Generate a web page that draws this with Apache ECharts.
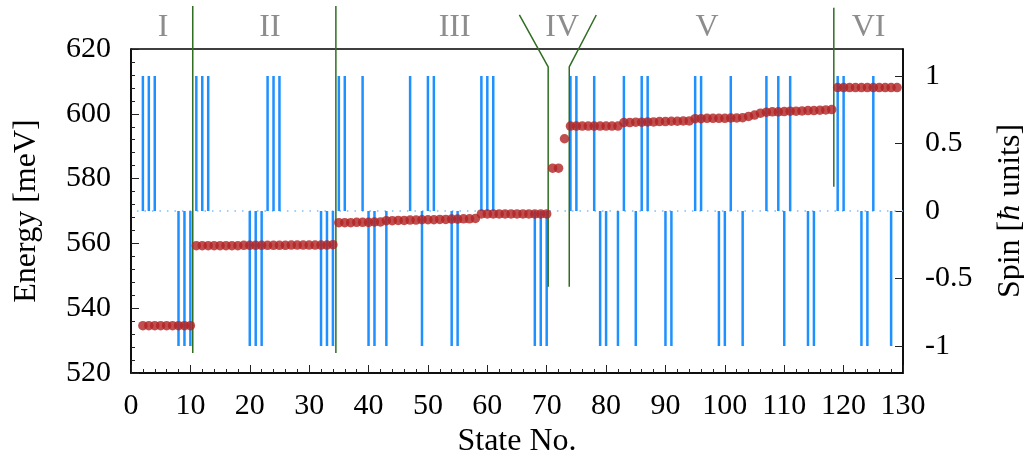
<!DOCTYPE html>
<html><head><meta charset="utf-8">
<script src="https://cdn.jsdelivr.net/npm/echarts@6/dist/echarts.min.js"></script>
<style>html,body{margin:0;padding:0;background:#fff}#c{width:1024px;height:464px}</style>
</head><body><div id="c"></div>
<script>
// ---------- data ----------
const regionNames = ['I', 'II', 'III', 'IV', 'V', 'VI'];
const regionStart = [2, 11, 35, 71, 74, 119];   // first state number of each region
const regionLabelX = [5.4, 23.4, 54.5, 72.6, 97.0, 124.2];
const regionLabelY = 626.5;

const energyI = [534.6, 534.6, 534.6, 534.6, 534.6, 534.6, 534.6, 534.6, 534.6];
const energyII = [559.3, 559.3, 559.3, 559.3, 559.3, 559.3, 559.3, 559.3,
                  559.4, 559.4, 559.4, 559.4, 559.4, 559.4, 559.4, 559.4,
                  559.5, 559.5, 559.5, 559.5, 559.5, 559.5, 559.5, 559.6];
const energyIII = [566.4, 566.4, 566.4, 566.5, 566.5, 566.5, 566.6, 566.6,
                   567.0, 567.0, 567.1, 567.1, 567.2, 567.2, 567.3, 567.3,
                   567.3, 567.4, 567.4, 567.5, 567.5, 567.6, 567.6, 567.7,
                   569.1, 569.1, 569.1, 569.1, 569.1, 569.1, 569.1, 569.1,
                   569.1, 569.1, 569.1, 569.1];
const energyIV = [583.2, 583.2, 592.3];
const energyV = [596.2, 596.2, 596.2, 596.2, 596.2, 596.2, 596.2, 596.2, 596.2,
                 597.3, 597.3, 597.4, 597.4, 597.5, 597.5, 597.6, 597.6, 597.7, 597.7, 597.8, 597.8,
                 598.5, 598.5, 598.6, 598.6, 598.6, 598.6, 598.7, 598.7, 598.8,
                 599.2, 599.6, 600.2,
                 600.5, 600.6, 600.6, 600.7, 600.8, 600.8, 600.9, 601.0, 601.0, 601.1, 601.2, 601.3];
const energyVI = [608.1, 608.1, 608.1, 608.1, 608.1, 608.1, 608.1, 608.1, 608.1, 608.1, 608.1];

const spinUpStates = [2, 3, 4, 11, 12, 13, 23, 24, 25, 35, 36, 39, 47, 50, 51, 59, 60, 61,
                      74, 75, 78, 83, 86, 87, 95, 96, 101, 107, 109, 111, 119, 120, 125];
const spinDownStates = [8, 9, 10, 20, 21, 22, 32, 33, 34, 40, 41, 43, 49, 54, 55, 68, 69, 70,
                        79, 80, 82, 85, 90, 91, 99, 100, 103, 110, 114, 115, 123, 124, 128];
const zeroLineX = [1, 130];

// boundary lines (state no., energy)
const boundaryI_II = [[10.4, 633.3], [10.4, 526.2]];
const boundaryII_III = [[34.5, 633.3], [34.5, 526.2]];
const boundaryIV_left = [[65.4, 630.5], [70.25, 614.5], [70.25, 546.6]];
const boundaryIV_right = [[78.35, 630.5], [73.8, 614.5], [73.8, 546.6]];
const boundaryV_VI = [[118.35, 632.7], [118.35, 577.5]];

const xTicks = {min: 0, max: 130, interval: 10};
const energyTicks = {min: 520, max: 620, interval: 20};
const spinRange = {min: -1.2, max: 1.2};
const spinTickValues = [-1, -0.5, 0, 0.5, 1];

// ---------- build ----------
const energyRegions = [energyI, energyII, energyIII, energyIV, energyV, energyVI];
const energyData = [];
energyRegions.forEach((arr, r) => arr.forEach((e, i) => energyData.push([regionStart[r] + i, e])));
const spinData = spinUpStates.map(s => [s, 1]).concat(spinDownStates.map(s => [s, -1]));
spinData.sort((a, b) => a[0] - b[0]);

const FONT = 'Liberation Serif';
const GREEN = '#2f6e22';
const chart = echarts.init(document.getElementById('c'), null, {renderer: 'canvas'});

const greenLine = (data) => ({
  type: 'line', data, xAxisIndex: 0, yAxisIndex: 0, clip: false, symbol: 'none',
  lineStyle: {color: GREEN, width: 1.5}, z: 4, silent: true, animation: false
});

chart.setOption({
  animation: false,
  backgroundColor: '#fff',
  grid: {left: 131, right: 121, top: 49, bottom: 91, containLabel: false, outerBoundsMode: 'none',
         show: true, borderColor: '#000', borderWidth: 1.5, backgroundColor: 'transparent'},
  xAxis: {
    type: 'value', min: xTicks.min, max: xTicks.max, interval: xTicks.interval, position: 'bottom',
    axisLine: {show: true, onZero: false, lineStyle: {color: '#000', width: 1.5}},
    axisTick: {inside: true, length: 8, lineStyle: {color: '#222', width: 1}},
    minorTick: {show: true, splitNumber: 5, length: 4, lineStyle: {color: '#222', width: 1}},
    splitLine: {show: false},
    axisLabel: {fontFamily: FONT, fontSize: 30, color: '#000', margin: 18},
    name: 'State No.', nameLocation: 'middle', nameGap: 50,
    nameTextStyle: {fontFamily: FONT, fontSize: 32, color: '#000'}
  },
  yAxis: [{
    type: 'value', min: energyTicks.min, max: energyTicks.max, interval: energyTicks.interval,
    axisLine: {show: true, onZero: false, lineStyle: {color: '#000', width: 1.5}},
    axisTick: {inside: true, length: 8, lineStyle: {color: '#222', width: 1}},
    minorTick: {show: true, splitNumber: 5, length: 4, lineStyle: {color: '#222', width: 1}},
    splitLine: {show: false},
    axisLabel: {fontFamily: FONT, fontSize: 30, color: '#000', margin: 20},
    name: 'Energy [meV]', nameLocation: 'middle', nameGap: 88, nameRotate: 90,
    nameTextStyle: {fontFamily: FONT, fontSize: 32, color: '#000'}
  }, {
    type: 'value', position: 'right', min: spinRange.min, max: spinRange.max,
    axisLine: {show: true, onZero: false, lineStyle: {color: '#000', width: 1.5}},
    axisTick: {inside: true, length: 8, customValues: spinTickValues, lineStyle: {color: '#222', width: 1}},
    splitLine: {show: false},
    axisLabel: {fontFamily: FONT, fontSize: 30, color: '#000', margin: 22, customValues: spinTickValues},
    name: 'Spin [{i|ħ} units]', nameLocation: 'middle', nameGap: 92, nameRotate: 90,
    nameTextStyle: {fontFamily: FONT, fontSize: 32, color: '#000',
      rich: {i: {fontFamily: FONT, fontSize: 32, fontStyle: 'italic', color: '#000'}}}
  }],
  series: [
    {
      type: 'bar', xAxisIndex: 0, yAxisIndex: 1, data: spinData, barWidth: 2.5,
      itemStyle: {color: '#1e90ff'}, z: 2, silent: true
    },
    {
      type: 'line', xAxisIndex: 0, yAxisIndex: 1, data: zeroLineX.map(x => [x, 0]), symbol: 'none',
      lineStyle: {color: '#7dbcff', width: 1.3, type: [1.5, 6]}, z: 1, silent: true
    },
    greenLine(boundaryI_II),
    greenLine(boundaryII_III),
    greenLine(boundaryIV_left),
    greenLine(boundaryIV_right),
    greenLine(boundaryV_VI),
    {
      type: 'scatter', xAxisIndex: 0, yAxisIndex: 0, data: energyData, symbolSize: 9.5,
      itemStyle: {color: '#b22222'}, z: 5, silent: true
    },
    {
      type: 'scatter', xAxisIndex: 0, yAxisIndex: 0, clip: false, symbolSize: 0,
      itemStyle: {color: 'rgba(0,0,0,0)'}, silent: true, z: 6,
      data: regionNames.map((n, i) => ({name: n, value: [regionLabelX[i], regionLabelY]})),
      label: {show: true, position: 'inside', formatter: p => p.name,
        fontFamily: FONT, fontSize: 32, color: '#707070'}
    }
  ]
});
</script>
</body></html>
